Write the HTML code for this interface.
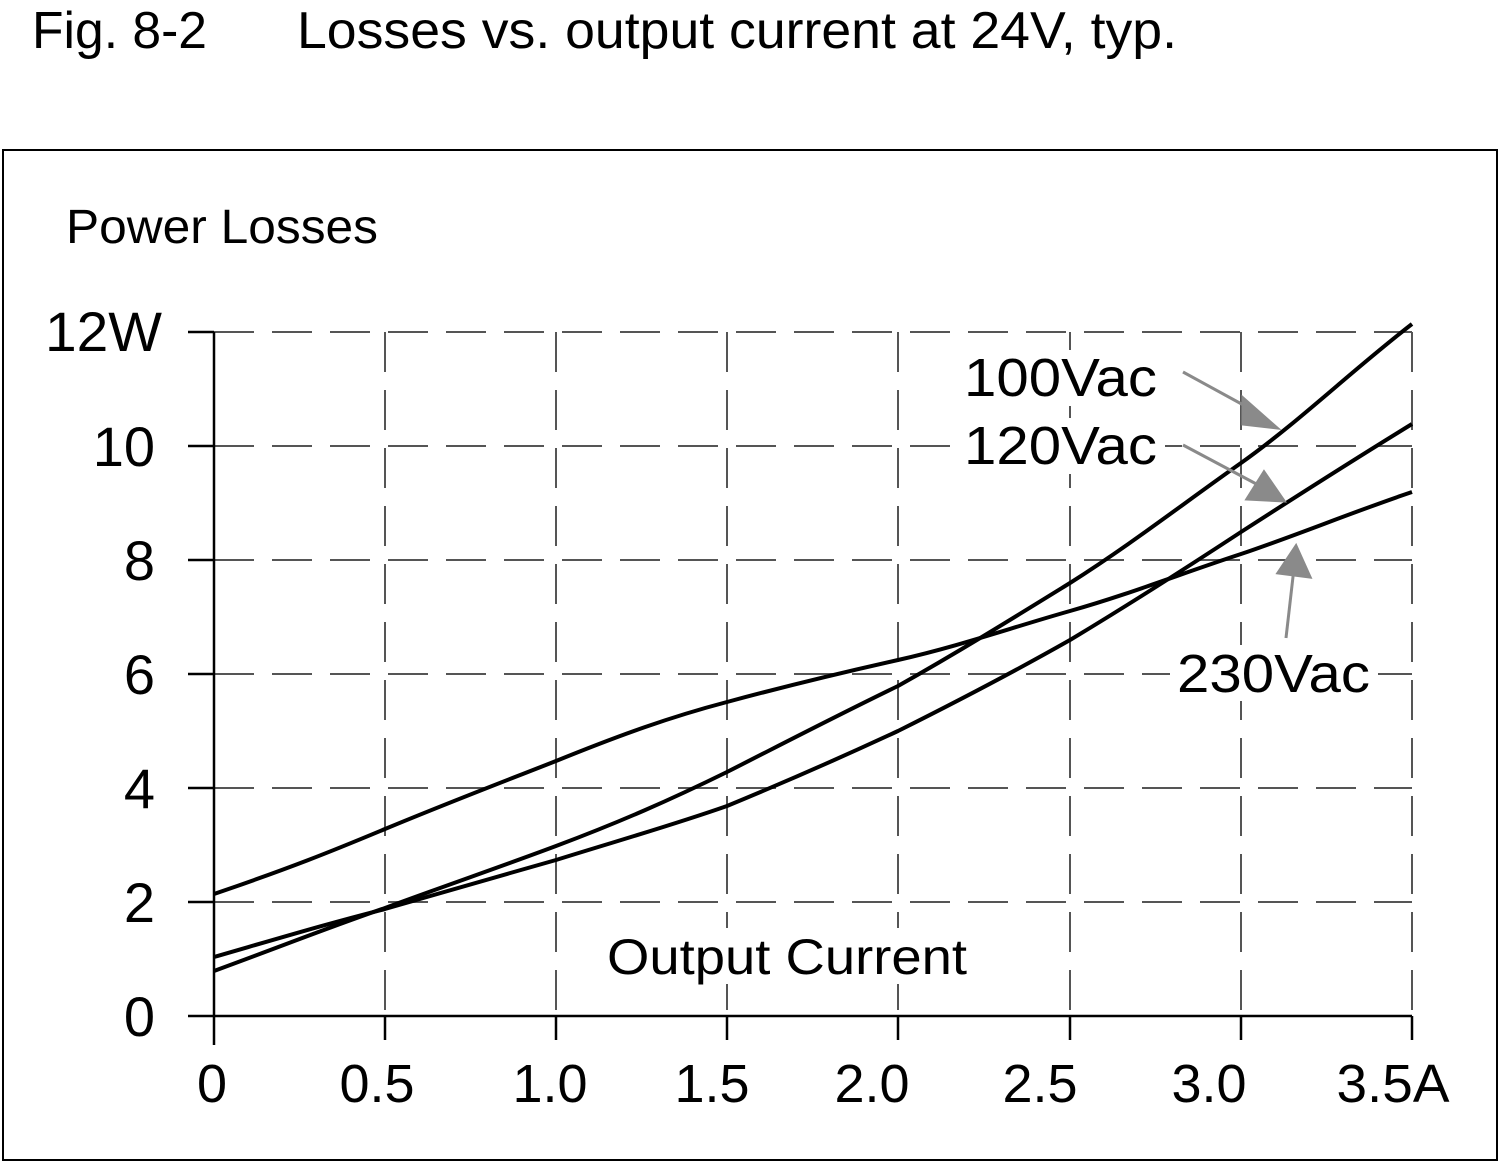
<!DOCTYPE html>
<html><head><style>
body{margin:0;background:#fff;}
svg{display:block;}
text{font-family:"Liberation Sans",sans-serif;fill:#000;}
</style></head><body>
<svg width="1500" height="1162" viewBox="0 0 1500 1162">
<text x="32" y="48" font-size="52" textLength="175" lengthAdjust="spacingAndGlyphs">Fig. 8-2</text>
<text x="297" y="48" font-size="52" textLength="880" lengthAdjust="spacingAndGlyphs">Losses vs. output current at 24V, typ.</text>
<rect x="3" y="150" width="1494" height="1010" fill="none" stroke="#000" stroke-width="2"/>
<text x="66" y="243" font-size="48" textLength="312" lengthAdjust="spacingAndGlyphs">Power Losses</text>
<g stroke="#555" stroke-width="2" stroke-dasharray="40,18" fill="none">
<line x1="214" y1="332" x2="1412" y2="332"/>
<line x1="214" y1="446" x2="1412" y2="446"/>
<line x1="214" y1="560" x2="1412" y2="560"/>
<line x1="214" y1="674" x2="1412" y2="674"/>
<line x1="214" y1="788" x2="1412" y2="788"/>
<line x1="214" y1="902" x2="1412" y2="902"/>
<line x1="385" y1="332" x2="385" y2="1016"/>
<line x1="556" y1="332" x2="556" y2="1016"/>
<line x1="727" y1="332" x2="727" y2="1016"/>
<line x1="898" y1="332" x2="898" y2="1016"/>
<line x1="1070" y1="332" x2="1070" y2="1016"/>
<line x1="1241" y1="332" x2="1241" y2="1016"/>
<line x1="1412" y1="332" x2="1412" y2="1016"/>
</g>
<g fill="#fff">
<rect x="955" y="350" width="210" height="56"/>
<rect x="955" y="418" width="210" height="56"/>
<rect x="1170" y="645" width="208" height="56"/>
<rect x="600" y="928" width="374" height="56"/>
</g>
<g stroke="#000" stroke-width="2.5" fill="none">
<line x1="214" y1="332" x2="214" y2="1045"/>
<line x1="188" y1="1016" x2="1412" y2="1016"/>
<line x1="188" y1="332" x2="214" y2="332"/>
<line x1="188" y1="446" x2="214" y2="446"/>
<line x1="188" y1="560" x2="214" y2="560"/>
<line x1="188" y1="674" x2="214" y2="674"/>
<line x1="188" y1="788" x2="214" y2="788"/>
<line x1="188" y1="902" x2="214" y2="902"/>
<line x1="385" y1="1016" x2="385" y2="1040"/>
<line x1="556" y1="1016" x2="556" y2="1040"/>
<line x1="727" y1="1016" x2="727" y2="1040"/>
<line x1="898" y1="1016" x2="898" y2="1040"/>
<line x1="1070" y1="1016" x2="1070" y2="1040"/>
<line x1="1241" y1="1016" x2="1241" y2="1040"/>
<line x1="1412" y1="1016" x2="1412" y2="1040"/>
</g>
<g font-size="56" text-anchor="end">
<text x="162" y="351" textLength="117" lengthAdjust="spacingAndGlyphs">12W</text>
<text x="155" y="466">10</text>
<text x="155" y="580">8</text>
<text x="155" y="694">6</text>
<text x="155" y="808">4</text>
<text x="155" y="922">2</text>
<text x="155" y="1036">0</text>
</g>
<g font-size="54" text-anchor="middle">
<text x="212" y="1102">0</text>
<text x="377" y="1102">0.5</text>
<text x="550" y="1102">1.0</text>
<text x="712" y="1102">1.5</text>
<text x="872" y="1102">2.0</text>
<text x="1040" y="1102">2.5</text>
<text x="1209" y="1102">3.0</text>
<text x="1393" y="1102" textLength="113" lengthAdjust="spacingAndGlyphs">3.5A</text>
</g>
<text x="607" y="974" font-size="50" textLength="360" lengthAdjust="spacingAndGlyphs">Output Current</text>
<g stroke="#000" stroke-width="4" fill="none" stroke-linejoin="round">
<path d="M214,971 C290,943 330,927 385,908 C450,884 500,867 556,846 C620,822 670,800 727,772 C790,740 840,714 898,686 C960,651 1010,620 1070,583 C1130,545 1180,506 1241,463 C1300,421 1350,372 1412,324"/>
<path d="M214,957 C290,935 330,923 385,909 C450,890 500,876 556,860 C620,840 670,826 727,806 C790,780 840,758 898,731 C960,700 1010,674 1070,640 C1130,604 1180,572 1241,532 C1300,494 1350,462 1412,424"/>
<path d="M214,894 C290,868 330,852 385,829 C450,802 500,783 556,761 C620,735 670,717 727,702 C790,685 840,673 898,660 C960,646 1010,628 1070,611 C1130,594 1180,574 1241,554 C1300,534 1350,513 1412,492"/>
</g>
<g font-size="54">
<text x="964" y="396" textLength="193" lengthAdjust="spacingAndGlyphs">100Vac</text>
<text x="964" y="464" textLength="193" lengthAdjust="spacingAndGlyphs">120Vac</text>
<text x="1177" y="692" textLength="193" lengthAdjust="spacingAndGlyphs">230Vac</text>
</g>
<g stroke="#8a8a8a" stroke-width="3" fill="#8a8a8a">
<line x1="1183" y1="372" x2="1258" y2="413"/>
<polygon points="1243,398 1277,428 1243,424"/>
<line x1="1183" y1="445" x2="1262" y2="487"/>
<polygon points="1264,472 1284,501 1247,499"/>
<line x1="1286" y1="638" x2="1294" y2="568"/>
<polygon points="1278,573 1296,546 1310,577"/>
</g>
</svg>
</body></html>
